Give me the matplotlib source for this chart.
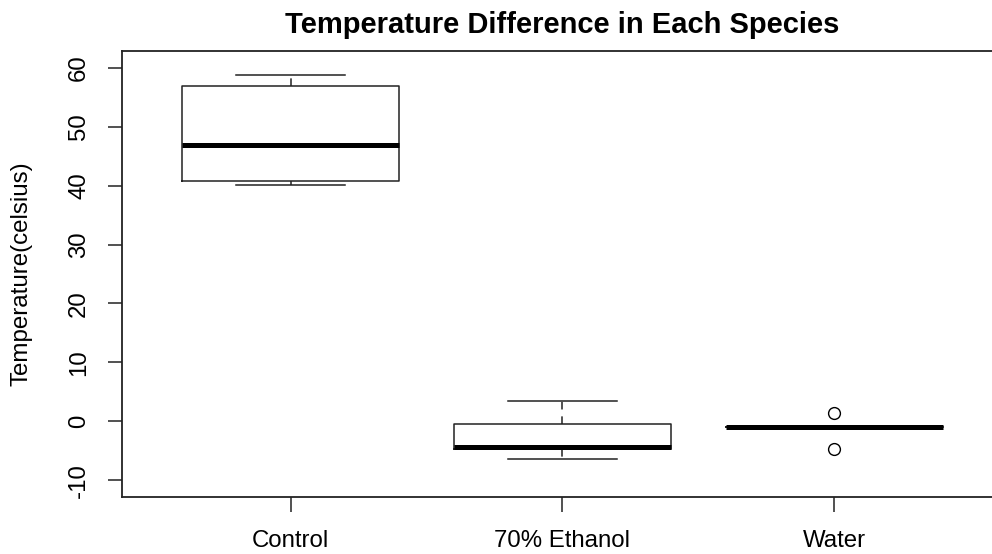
import matplotlib
matplotlib.use("Agg")
import matplotlib.pyplot as plt

groups = ["Control", "70% Ethanol", "Water"]
medians = [46.8, -4.3, -1.0]
q1 = [40.8, -4.7, -1.0]
q3 = [56.8, -0.5, -1.0]
whislo = [40.1, -6.4, -1.0]
whishi = [58.8, 3.4, -1.0]
outliers = [[], [], [1.5, -4.7]]

plt.rcParams["font.family"] = ["Liberation Sans", "DejaVu Sans"]

fig = plt.figure(figsize=(9.92, 5.54), dpi=100)
ax = fig.add_axes([122 / 992, 57 / 554, 881 / 992, 446 / 554])

stats = []
for i, name in enumerate(groups):
    stats.append(dict(label=name, med=medians[i], q1=q1[i], q3=q3[i],
                      whislo=whislo[i], whishi=whishi[i], fliers=outliers[i]))

ax.bxp(stats, positions=[1, 2, 3], widths=0.8, patch_artist=False,
       boxprops=dict(color="#222222", linewidth=1.1),
       medianprops=dict(color="black", linewidth=3.6, solid_capstyle="butt"),
       whiskerprops=dict(color="#222222", linewidth=1.1, linestyle=(0, (5, 4.5))),
       capprops=dict(color="#222222", linewidth=1.1),
       capwidths=0.4,
       flierprops=dict(marker="o", markerfacecolor="none", markeredgecolor="black",
                       markersize=8.5, markeredgewidth=1.0, linestyle="none"))

ax.set_xlim(0.38, 3.62)
ax.set_ylim(-12.8, 62.8)
ax.set_yticks(range(-10, 61, 10))
ax.set_yticklabels([str(v) for v in range(-10, 61, 10)], rotation=90, va="center")
ax.set_xticks([1, 2, 3])
ax.set_xticklabels(groups)

ax.tick_params(axis="y", direction="out", length=10, width=1.1, pad=13,
               labelsize=17.3, color="#222222")
ax.tick_params(axis="x", direction="out", length=11, width=1.1, pad=13,
               labelsize=17.3, color="#222222")
for sp in ax.spines.values():
    sp.set_linewidth(1.3)
    sp.set_color("#222222")

ax.set_title("Temperature Difference in Each Species", fontsize=21,
             fontweight="bold", pad=13)
fig.text(22 / 992, 1 - 274 / 554, "Temperature(celsius)", rotation=90,
         ha="center", va="center", fontsize=17.4)

fig.savefig("out.png", dpi=100)
